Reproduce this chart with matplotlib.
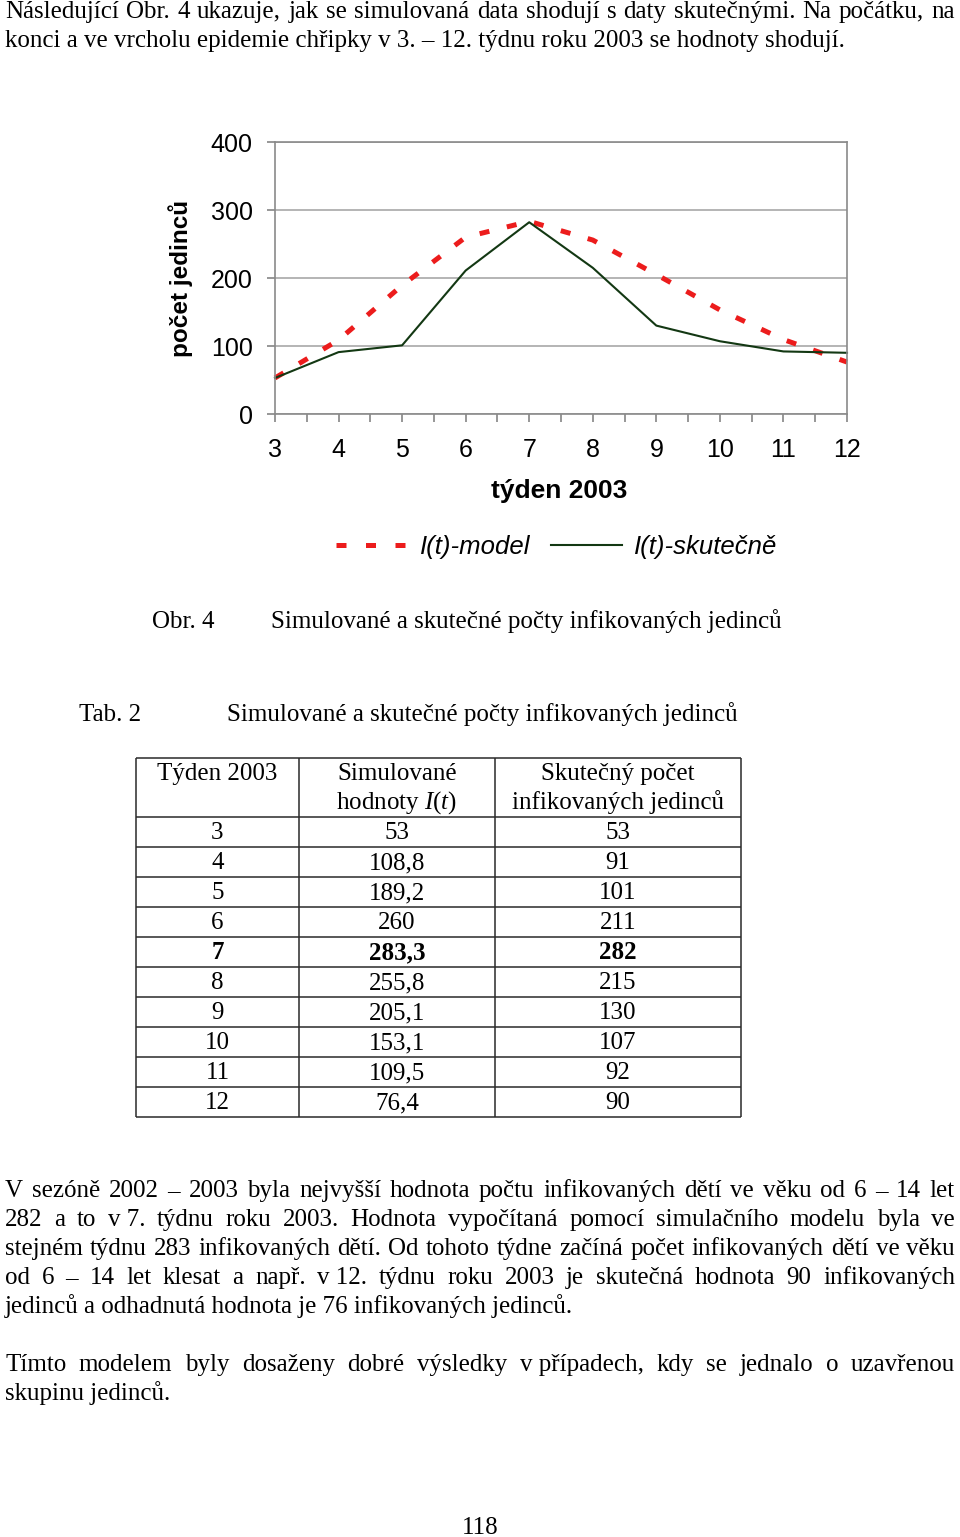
import numpy as np
import matplotlib
matplotlib.use('Agg')
import matplotlib.pyplot as plt
from matplotlib.lines import Line2D

# data (tab. 2)
weeks = [3, 4, 5, 6, 7, 8, 9, 10, 11, 12]
model = [53, 108.8, 189.2, 260, 283.3, 255.8, 205.1, 153.1, 109.5, 76.4]
actual = [53, 91, 101, 211, 282, 215, 130, 107, 92, 90]
y_ticks = [0, 100, 200, 300, 400]

para1 = ["Následující Obr. 4 ukazuje, jak se simulovaná data shodují s daty skutečnými. Na počátku, na",
         "konci a ve vrcholu epidemie chřipky v 3. – 12. týdnu roku 2003 se hodnoty shodují."]
para2 = ["V sezóně 2002 – 2003 byla nejvyšší hodnota počtu infikovaných dětí ve věku od 6 – 14 let",
         "282 a to v\u00a07. týdnu roku 2003. Hodnota vypočítaná pomocí simulačního modelu byla ve",
         "stejném týdnu 283 infikovaných dětí. Od tohoto týdne začíná počet infikovaných dětí ve věku",
         "od 6 – 14 let klesat a např. v\u00a012. týdnu roku 2003 je skutečná hodnota 90 infikovaných",
         "jedinců a odhadnutá hodnota je 76 infikovaných jedinců."]
para3 = ["Tímto modelem byly dosaženy dobré výsledky v\u00a0případech, kdy se jednalo o uzavřenou",
         "skupinu jedinců."]
caption_fig = ("Obr. 4", "Simulované a skutečné počty infikovaných jedinců")
caption_tab = ("Tab. 2", "Simulované a skutečné počty infikovaných jedinců")
header = [("Týden 2003", ""), ("Simulované", "hodnoty $I(t)$"), ("Skutečný počet", "infikovaných jedinců")]

W, H = 960, 1537
plt.rcParams['mathtext.fontset'] = 'custom'
plt.rcParams['mathtext.rm'] = 'Liberation Serif'
plt.rcParams['mathtext.it'] = 'Liberation Serif:italic'

fig = plt.figure(figsize=(W / 100, H / 100), dpi=100)
fig.patch.set_facecolor('white')

# page layer in pixel units
page = fig.add_axes([0, 0, 1, 1])
page.set_xlim(0, W)
page.set_ylim(H, 0)
page.axis('off')

SERIF = 'Liberation Serif'
SANS = 'Liberation Sans'
FS = 18
RED = '#ec1c1c'
GREEN = '#133813'

# ---- chart ----
ax = fig.add_axes([275 / W, 1 - 414 / H, 572 / W, 272 / H])
ax.plot(weeks, model, color=RED, lw=3.6, dashes=(2.0, 3.6), dash_capstyle='butt', clip_on=False)
ax.plot(weeks, actual, color=GREEN, lw=1.5, clip_on=False)
ax.set_xlim(3, 12)
ax.set_ylim(0, 400)
ax.set_xticks(weeks)
ax.set_xticks(np.arange(3.5, 12, 1), minor=True)
ax.set_yticks(y_ticks)
ax.yaxis.grid(True, color='#a8a8a8', lw=1.2)
ax.set_axisbelow(True)
for s in ax.spines.values():
    s.set_color('#8a8a8a')
    s.set_linewidth(1.2)
ax.tick_params(which='both', direction='out', length=6, width=1.1, color='#7a7a7a')
ax.tick_params(axis='x', pad=11.5, labelsize=18)
ax.tick_params(axis='y', pad=10, labelsize=18)
for lab in ax.get_xticklabels() + ax.get_yticklabels():
    lab.set_family(SANS)
ax.set_xlabel('týden 2003', family=SANS, fontsize=19, fontweight='bold', va='center')
ax.xaxis.set_label_coords(0.497, (414 - 491) / 272)
ax.set_ylabel('počet jedinců', family=SANS, fontsize=17.5, fontweight='bold', va='center')
ax.yaxis.set_label_coords((181 - 275) / 572, 0.5)

handles = [Line2D([], [], color=RED, lw=3.6, dashes=(2.0, 3.9), dash_capstyle='butt'),
           Line2D([], [], color=GREEN, lw=1.5)]
fig.legend(handles, ['I(t)-model', 'I(t)-skutečně'], loc='center',
           bbox_to_anchor=(557 / W, 1 - 547 / H), ncol=2, frameon=False,
           prop=dict(family=SANS, style='italic', size=18.5),
           handlelength=2.75, handletextpad=0.5, columnspacing=0.8)

# ---- text helpers ----
renderer = fig.canvas.get_renderer()


def justify(line, y, x0=5, x1=955):
    words = line.split(' ')
    texts = [page.text(0, y, w, family=SERIF, fontsize=FS, va='baseline') for w in words]
    widths = [t.get_window_extent(renderer).width for t in texts]
    gap = (x1 - x0 - sum(widths)) / (len(words) - 1)
    x = x0
    for t, w in zip(texts, widths):
        t.set_x(x)
        x += w + gap


def paragraph(lines, y0, step=29):
    for i, line in enumerate(lines):
        y = y0 + i * step
        if i < len(lines) - 1:
            justify(line, y)
        else:
            page.text(5, y, line, family=SERIF, fontsize=FS, va='baseline')


paragraph(para1, 18)
paragraph(para2, 1197)
paragraph(para3, 1371)

page.text(152, 628, caption_fig[0], family=SERIF, fontsize=FS, va='baseline')
page.text(271, 628, caption_fig[1], family=SERIF, fontsize=FS, va='baseline')
page.text(79, 721, caption_tab[0], family=SERIF, fontsize=FS, va='baseline')
page.text(227, 721, caption_tab[1], family=SERIF, fontsize=FS, va='baseline')
page.text(480, 1534, "118", family=SERIF, fontsize=FS, va='baseline', ha='center')

# ---- table ----
col_x = [136, 299, 495, 741]
top, head_bottom, row_h = 758, 817, 30
n = len(weeks)
bottom = head_bottom + n * row_h
line_kw = dict(color='#2a2a2a', lw=1.1)
page.hlines([top, head_bottom] + [head_bottom + (i + 1) * row_h for i in range(n)],
            col_x[0], col_x[-1], **line_kw)
page.vlines(col_x, top, bottom, **line_kw)

centers = [(col_x[i] + col_x[i + 1]) / 2 for i in range(3)]
for c, (l1, l2) in zip(centers, header):
    page.text(c, 780, l1, family=SERIF, fontsize=FS, ha='center', va='baseline')
    if l2:
        page.text(c, 809, l2, family=SERIF, fontsize=FS, ha='center', va='baseline')


def fmt(v):
    return f"{v:g}".replace('.', ',')


peak = int(np.argmax(actual))
for i in range(n):
    y = head_bottom + i * row_h + 22
    weight = 'bold' if i == peak else 'normal'
    for c, v in zip(centers, [weeks[i], model[i], actual[i]]):
        page.text(c, y, fmt(v), family=SERIF, fontsize=FS, ha='center', va='baseline', fontweight=weight)

fig.savefig('out.png', dpi=100, facecolor='white')
